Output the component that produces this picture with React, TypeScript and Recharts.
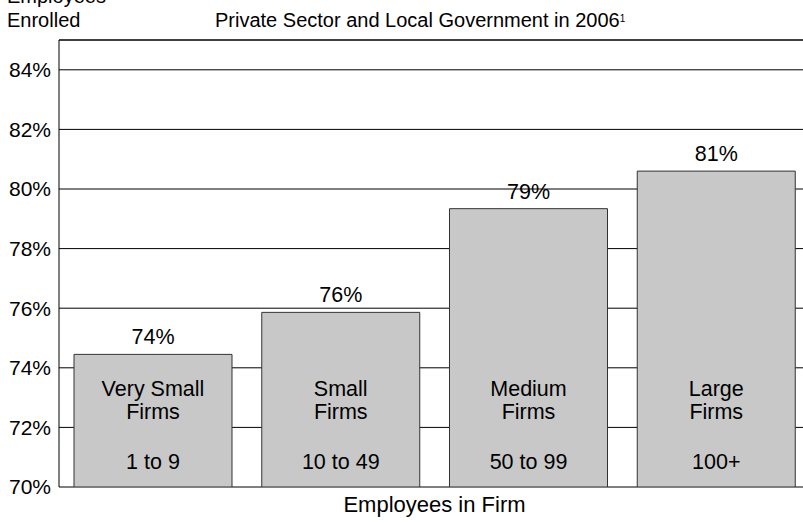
import React from "react"
import { BarChart, Bar, XAxis, YAxis, CartesianGrid, ReferenceLine, LabelList } from "recharts"

// Firm size categories and enrollment share
const firmNames = ["Very Small", "Small", "Medium", "Large"]
const sizeRanges = ["1 to 9", "10 to 49", "50 to 99", "100+"]
const enrolled = [74.45, 75.86, 79.34, 80.6]
const valueLabels = ["74%", "76%", "79%", "81%"]
const yTicks = [70, 72, 74, 76, 78, 80, 82, 84]

const data = firmNames.map((name, i) => ({
  name,
  range: sizeRanges[i],
  value: enrolled[i],
  label: valueLabels[i],
}))

const FONT = "'Liberation Sans', Arial, Helvetica, sans-serif"

// label above each bar
const TopLabel = (props: any) => {
  const { x, y, width, index } = props
  return (
    <text x={x + width / 2} y={y - 10} textAnchor="middle" fontSize={21.5} fill="#000" fontFamily={FONT}>
      {data[index].label}
    </text>
  )
}

// text inside each bar, pinned to the bar bottom
const InnerLabel = (props: any) => {
  const { x, y, width, height, index } = props
  const cx = x + width / 2
  const bottom = y + height
  const d = data[index]
  return (
    <g fontSize={21.5} fill="#000" fontFamily={FONT} textAnchor="middle">
      <text x={cx} y={bottom - 91}>{d.name}</text>
      <text x={cx} y={bottom - 68}>Firms</text>
      <text x={cx} y={bottom - 18}>{d.range}</text>
    </g>
  )
}

export default function App() {
  return (
    <div style={{ position: "absolute", left: 0, top: 0, width: 803, height: 523, overflow: "hidden", background: "#fff", fontFamily: FONT }}>
      <div style={{ position: "absolute", left: 7, top: -16, fontSize: 20, lineHeight: "24px", color: "#000" }}>
        Employees<br />Enrolled
      </div>
      <div style={{ position: "absolute", left: 215, top: 8, fontSize: 20, lineHeight: "24px", whiteSpace: "nowrap", color: "#000" }}>
        Private Sector and Local Government in 2006<sup style={{ fontSize: 10, verticalAlign: "top", position: "relative", top: -1 }}>1</sup>
      </div>
      <div style={{ position: "absolute", left: 59, width: 751, top: 492, fontSize: 22, lineHeight: "26px", textAlign: "center", color: "#000" }}>
        Employees in Firm
      </div>
      <BarChart width={820} height={523} data={data} margin={{ top: 40, right: 10, bottom: 36, left: 0 }}>
        <CartesianGrid horizontal={true} vertical={false} stroke="#000" strokeOpacity={1} />
        <XAxis dataKey="name" tick={false} tickLine={false} height={0} axisLine={{ stroke: "#000", strokeWidth: 1.5 }} />
        <YAxis
          width={59}
          domain={[70, 85]}
          ticks={yTicks}
          tickFormatter={(v: number) => `${v}%`}
          tickLine={false}
          axisLine={{ stroke: "#000" }}
          tick={{ fontSize: 21, fill: "#000", fontFamily: FONT }}
          allowDataOverflow
        />
        <ReferenceLine y={85} stroke="#000" />
        <Bar dataKey="value" fill="#c8c8c8" stroke="#333" strokeWidth={1} barSize={158} isAnimationActive={false}>
          <LabelList dataKey="value" content={<TopLabel />} />
          <LabelList dataKey="name" content={<InnerLabel />} />
        </Bar>
      </BarChart>
    </div>
  )
}
